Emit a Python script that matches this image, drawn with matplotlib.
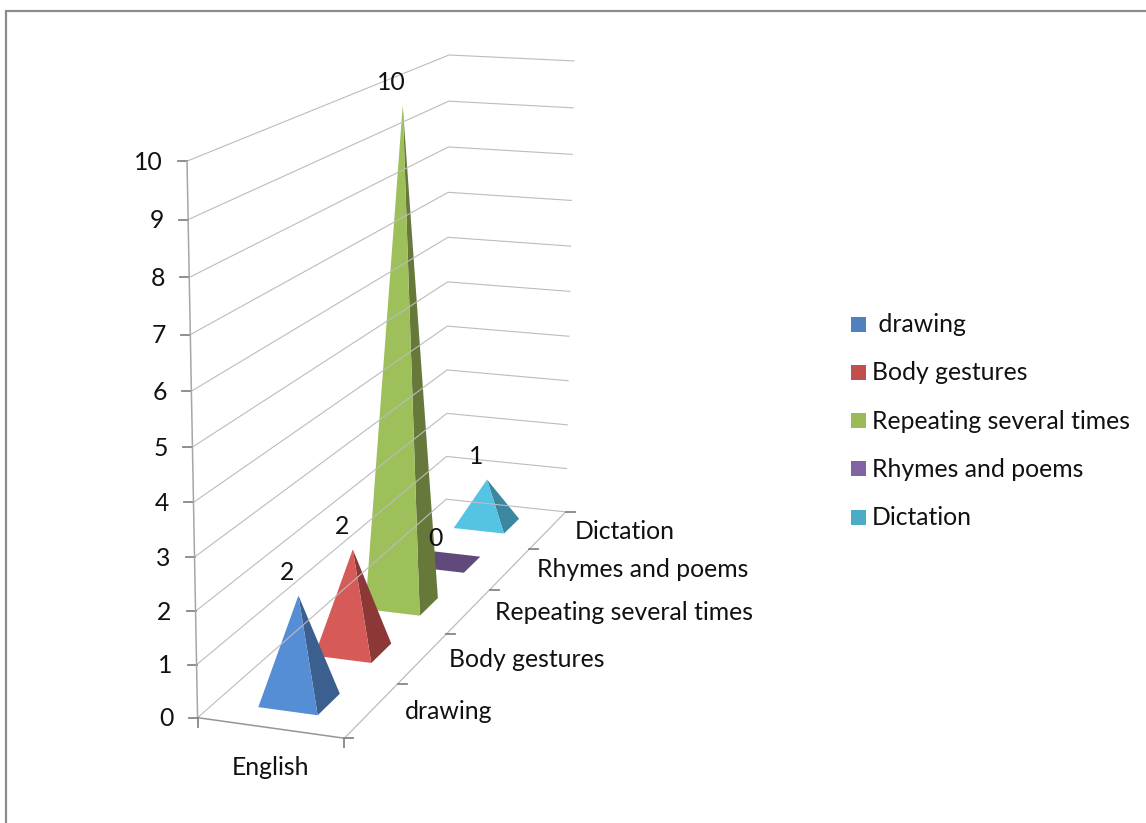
import numpy as np
import matplotlib
matplotlib.use("Agg")
import matplotlib.pyplot as plt
from matplotlib.patches import Polygon, Rectangle

plt.rcParams["font.family"] = ["Lato", "DejaVu Sans"]

categoria = "English"
series = ["drawing", "Body gestures", "Repeating several times", "Rhymes and poems", "Dictation"]
leyenda = [" drawing", "Body gestures", "Repeating several times", "Rhymes and poems", "Dictation"]
valores = [2, 2, 10, 0, 1]
ticks_z = [0, 1, 2, 3, 4, 5, 6, 7, 8, 9, 10]

color_frente = ["#558ed5", "#d55a58", "#9dc05a", "#604a7b", "#55c3e3"]
color_lado = ["#3b5f8e", "#8c3836", "#66793a", "#604a7b", "#3a879f"]
color_leyenda = ["#4f81bd", "#c0504d", "#9bbb59", "#8064a2", "#4bacc6"]

TAM = 17.8

# esquinas de la caja 3D: (u, serie, valor) -> pixel en la imagen
esquinas = [
    ((0, 0, 0), (198, 718)),
    ((1, 0, 0), (344, 738)),
    ((0, 5, 0), (446, 499)),
    ((1, 5, 0), (566, 512)),
    ((0, 0, 10), (187, 161)),
    ((0, 5, 10), (449, 55)),
    ((1, 5, 10), (574, 61)),
]


def _calibrar(pares):
    filas, lado = [], []
    for (x, y, z), (px, py) in pares:
        filas.append([x, y, z, 1, 0, 0, 0, 0, -px * x, -px * y, -px * z])
        filas.append([0, 0, 0, 0, x, y, z, 1, -py * x, -py * y, -py * z])
        lado += [px, py]
    p = np.linalg.lstsq(np.array(filas, float), np.array(lado, float), rcond=None)[0]
    return np.append(p, 1).reshape(3, 4)


CAM = _calibrar(esquinas)


def proy(u, v, z):
    q = CAM @ np.array([u, v, z, 1.0])
    return q[0] / q[2], q[1] / q[2]


fig = plt.figure(figsize=(11.46, 8.23), dpi=100)
ax = fig.add_axes([0, 0, 1, 1])
ax.set_xlim(0, 1146)
ax.set_ylim(823, 0)
ax.axis("off")

# marco del grafico
ax.plot([6, 6, 1146], [823, 11, 11], color="#8c8c8c", lw=1.6, solid_joinstyle="miter")

# lineas de las paredes
for z in ticks_z:
    xs, ys = zip(proy(0, 0, z), proy(0, 5, z), proy(1, 5, z))
    ax.plot(xs, ys, color="#bcbcbc", lw=0.8)
    x0, y0 = proy(0, 0, z)
    ax.plot([x0 - 9, x0], [y0, y0], color="#868686", lw=1.3)
    ax.text(x0 - 24, y0 - 1, str(z), ha="right", va="center_baseline", fontsize=TAM, color="#111111")

xs, ys = zip(proy(0, 0, 0), proy(0, 0, 10))
ax.plot(xs, ys, color="#a6a6a6", lw=1.1)
xs, ys = zip(proy(0, 0, 0), proy(1, 0, 0))
ax.plot(xs, ys, color="#969696", lw=1.1)
xs, ys = zip(proy(1, 0, 0), proy(1, 5, 0))
ax.plot(xs, ys, color="#bcbcbc", lw=0.9)

for u in [0, 1]:
    x0, y0 = proy(u, 0, 0)
    ax.plot([x0, x0], [y0, y0 + 9], color="#868686", lw=1.3)
for v in range(6):
    x0, y0 = proy(1, v, 0)
    ax.plot([x0, x0 + 9], [y0, y0], color="#868686", lw=1.3)

# piramides, de atras hacia adelante
MEDIO_U = 0.205
MEDIO_V = 0.20
for i in range(len(series) - 1, -1, -1):
    cv = i + 0.5
    u1, u2 = 0.5 - MEDIO_U, 0.5 + MEDIO_U
    v1, v2 = cv - MEDIO_V, cv + MEDIO_V
    if valores[i] == 0:
        base = [proy(u1, v1, 0), proy(u2, v1, 0), proy(u2, v2, 0), proy(u1, v2, 0)]
        ax.add_patch(Polygon(base, closed=True, fc=color_frente[i], ec="none"))
    else:
        punta = proy(0.5, cv, valores[i])
        frente = [proy(u1, v1, 0), proy(u2, v1, 0), punta]
        lado = [proy(u2, v1, 0), proy(u2, v2, 0), punta]
        ax.add_patch(Polygon(lado, closed=True, fc=color_lado[i], ec="none"))
        ax.add_patch(Polygon(frente, closed=True, fc=color_frente[i], ec="none"))

# etiquetas de valores
for i, val in enumerate(valores):
    x0, y0 = proy(0.5, i + 0.5, val)
    ax.text(x0 - 11, y0 - 25, str(val), ha="center", va="center_baseline", fontsize=TAM, color="#111111")

# etiquetas de ejes
margen_serie = [33, 26.5, 27, 27, 27]
for i, nombre in enumerate(series):
    x0, y0 = proy(1, i + 0.5, 0)
    ax.text(x0 + margen_serie[i], y0 - 1, nombre, ha="left", va="center_baseline", fontsize=TAM, color="#111111")
x0, y0 = proy(0.5, 0, 0)
ax.text(x0, y0 + 38, categoria, ha="center", va="center_baseline", fontsize=TAM, color="#111111")

# leyenda
y_ley = 324
for nombre, col in zip(leyenda, color_leyenda):
    ax.add_patch(Rectangle((851, y_ley - 7.5), 15, 15, fc=col, ec="none"))
    ax.text(872, y_ley - 1.5, nombre, ha="left", va="center_baseline", fontsize=TAM, color="#111111")
    y_ley += 48.3

fig.savefig("out.png", dpi=100)
